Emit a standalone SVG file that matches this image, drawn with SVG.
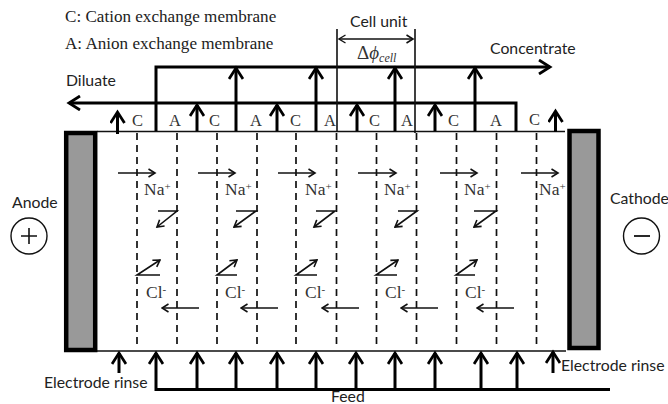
<svg xmlns="http://www.w3.org/2000/svg" width="668" height="404" viewBox="0 0 668 404">
<style>
.s{font-family:"Lato","Liberation Sans",sans-serif;font-size:15.8px;fill:#222}
.t{font-family:"Liberation Serif",serif;fill:#333}
.h{font-size:17.1px;fill:#222}
.m{font-size:16.5px}
.i{font-size:17.5px}
.b{fill:none;stroke:#000;stroke-width:3}
.w{fill:none;stroke:#111;stroke-width:1.6}
.d{fill:none;stroke:#111;stroke-width:1.7;stroke-dasharray:7 5}
.e{fill:#999;stroke:#000;stroke-width:4.5}
.c{fill:#fff;stroke:#111;stroke-width:1.4}
</style>
<defs>
<marker id="big" markerUnits="userSpaceOnUse" markerWidth="16" markerHeight="16" refX="13" refY="8" orient="auto"><path d="M2 1L13 8L2 15" fill="none" stroke="#000" stroke-width="2.8"/></marker>
<marker id="sm" markerUnits="userSpaceOnUse" markerWidth="10" markerHeight="10" refX="8.500" refY="5" orient="auto"><path d="M2 1L8.500 5L2 9" fill="none" stroke="#111" stroke-width="1.6"/></marker>
<marker id="sms" markerUnits="userSpaceOnUse" markerWidth="10" markerHeight="10" refX="1.500" refY="5" orient="auto"><path d="M8 1L1.500 5L8 9" fill="none" stroke="#111" stroke-width="1.3"/></marker>
</defs>
<g id="connectors">
<path class="w" d="M97 131.500H565M97 351H566"/>
<path class="d" d="M137 133V346M177 133V346M217 133V346M257 133V346M296 133V346M336.500 133V346M376.500 133V346M416.500 133V346M456.500 133V346M496.500 133V346M536.500 133V344"/>
<path class="b" d="M156 131V67H550" marker-end="url(#big)"/>
<path class="b" d="M516 131V103H69" marker-end="url(#big)"/>
<path class="b" d="M236 131V68" marker-end="url(#big)"/>
<path class="b" d="M316 131V68" marker-end="url(#big)"/>
<path class="b" d="M395 131V68" marker-end="url(#big)"/>
<path class="b" d="M475 131V68" marker-end="url(#big)"/>
<path class="b" d="M197 131V105" marker-end="url(#big)"/>
<path class="b" d="M277 131V105" marker-end="url(#big)"/>
<path class="b" d="M357 131V105" marker-end="url(#big)"/>
<path class="b" d="M435 131V105" marker-end="url(#big)"/>
<path class="b" d="M117.500 134V112" marker-end="url(#big)"/>
<path class="b" d="M555.500 132V111" marker-end="url(#big)"/>
<path class="w" d="M337 29V131M415 29V133"/>
<path class="w" d="M339 39H413" marker-start="url(#sms)" marker-end="url(#sm)"/>
<path class="b" d="M610 389.500H156V353" marker-end="url(#big)"/>
<path class="b" d="M197 389V353" marker-end="url(#big)"/>
<path class="b" d="M236 389V353" marker-end="url(#big)"/>
<path class="b" d="M277 389V353" marker-end="url(#big)"/>
<path class="b" d="M316 389V353" marker-end="url(#big)"/>
<path class="b" d="M356 389V353" marker-end="url(#big)"/>
<path class="b" d="M395 389V353" marker-end="url(#big)"/>
<path class="b" d="M435 389V353" marker-end="url(#big)"/>
<path class="b" d="M481 389V353" marker-end="url(#big)"/>
<path class="b" d="M517 389V353" marker-end="url(#big)"/>
<path class="b" d="M119 373V353" marker-end="url(#big)"/>
<path class="b" d="M553 373V352" marker-end="url(#big)"/>
<path class="w" d="M118 173H155" marker-end="url(#sm)"/>
<path class="w" d="M198 173H235" marker-end="url(#sm)"/>
<path class="w" d="M278 173H315" marker-end="url(#sm)"/>
<path class="w" d="M358 173H396" marker-end="url(#sm)"/>
<path class="w" d="M440 173H477" marker-end="url(#sm)"/>
<path class="w" d="M521 173H558" marker-end="url(#sm)"/>
<path class="w" d="M158 211H177L157 227" marker-end="url(#sm)"/>
<path class="w" d="M236 211H256L234 227" marker-end="url(#sm)"/>
<path class="w" d="M316 211H335L314 227" marker-end="url(#sm)"/>
<path class="w" d="M398 211H417L395 227" marker-end="url(#sm)"/>
<path class="w" d="M474 211H496L474 227" marker-end="url(#sm)"/>
<path class="w" d="M160 275H137L160 260" marker-end="url(#sm)"/>
<path class="w" d="M237 275H217L237 260" marker-end="url(#sm)"/>
<path class="w" d="M317 275H296L317 260" marker-end="url(#sm)"/>
<path class="w" d="M397 275H376L398 260" marker-end="url(#sm)"/>
<path class="w" d="M475 275H456L477 260" marker-end="url(#sm)"/>
<path class="w" d="M199 308H162" marker-end="url(#sm)"/>
<path class="w" d="M278 308H241" marker-end="url(#sm)"/>
<path class="w" d="M359 308H322" marker-end="url(#sm)"/>
<path class="w" d="M438 308H401" marker-end="url(#sm)"/>
<path class="w" d="M514 308H477" marker-end="url(#sm)"/>
</g>
<g id="anode-electrode"><rect class="e" x="66.200" y="133" width="29" height="217"/></g>
<g id="cathode-electrode"><rect class="e" x="569.500" y="131" width="29" height="217"/></g>
<g id="anode"><text class="s" x="12" y="208">Anode</text><circle class="c" cx="29" cy="236" r="18"/><path d="M21 236H37M29 228V244" stroke="#111" stroke-width="1.600"/></g>
<g id="cathode"><text class="s" x="610" y="204">Cathode</text><circle class="c" cx="641.500" cy="236" r="18"/><path d="M634 236H650" stroke="#111" stroke-width="1.800"/></g>
<g id="legend">
<text class="t h" x="65" y="22">C: Cation exchange membrane</text>
<text class="t h" x="65" y="49">A: Anion exchange membrane</text>
</g>
<g id="labels">
<text class="s" x="66" y="86">Diluate</text>
<text class="s" x="490" y="54">Concentrate</text>
<text class="s" x="350" y="27">Cell unit</text>
<text class="t" x="357" y="59" font-size="19">Δ<tspan font-style="italic">ϕ</tspan><tspan font-style="italic" font-size="12" dy="3">cell</tspan></text>
<text class="s" x="44" y="388">Electrode rinse</text>
<text class="s" x="561" y="371">Electrode rinse</text>
<text class="s" x="331" y="402">Feed</text>
</g>
<g id="membrane-labels">
<text class="t m" x="132" y="126">C</text><text class="t m" x="169" y="126">A</text><text class="t m" x="209" y="126">C</text><text class="t m" x="250" y="126">A</text><text class="t m" x="290" y="126">C</text><text class="t m" x="324" y="126">A</text><text class="t m" x="369" y="126">C</text><text class="t m" x="401" y="126">A</text><text class="t m" x="448" y="126">C</text><text class="t m" x="490" y="126">A</text><text class="t m" x="529" y="125">C</text>
</g>
<g id="ions">
<text class="t i" x="144" y="195">Na<tspan font-size="11" dy="-5">+</tspan></text>
<text class="t i" x="225" y="195">Na<tspan font-size="11" dy="-5">+</tspan></text>
<text class="t i" x="305" y="195">Na<tspan font-size="11" dy="-5">+</tspan></text>
<text class="t i" x="384" y="195">Na<tspan font-size="11" dy="-5">+</tspan></text>
<text class="t i" x="464" y="195">Na<tspan font-size="11" dy="-5">+</tspan></text>
<text class="t i" x="539" y="195">Na<tspan font-size="11" dy="-5">+</tspan></text>
<text class="t i" x="146" y="298">Cl<tspan font-size="11" dy="-5">-</tspan></text>
<text class="t i" x="225" y="298">Cl<tspan font-size="11" dy="-5">-</tspan></text>
<text class="t i" x="305" y="298">Cl<tspan font-size="11" dy="-5">-</tspan></text>
<text class="t i" x="385" y="298">Cl<tspan font-size="11" dy="-5">-</tspan></text>
<text class="t i" x="465" y="298">Cl<tspan font-size="11" dy="-5">-</tspan></text>
</g>
</svg>
